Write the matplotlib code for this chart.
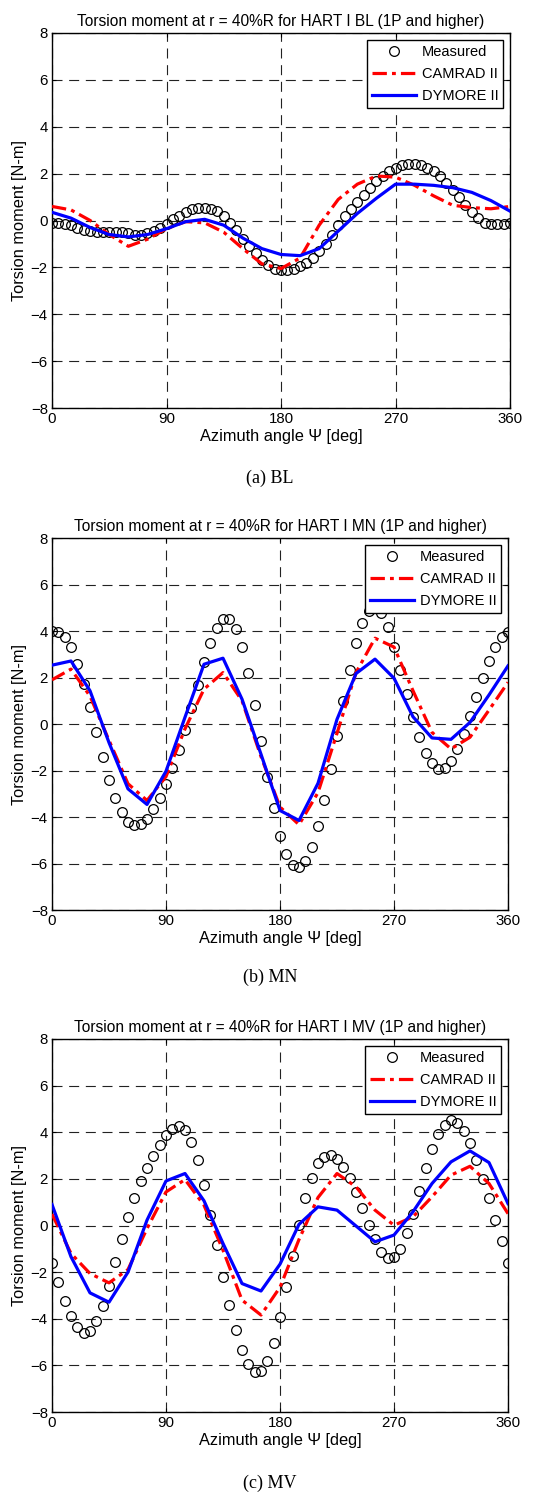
import numpy as np
import matplotlib
matplotlib.use("Agg")
import matplotlib.pyplot as plt

plt.rcParams['font.family'] = ['Liberation Sans', 'DejaVu Sans']

# ---------------- data ----------------
psi_meas = list(range(0, 361, 5))
psi_model = list(range(0, 361, 15))

titles = ["Torsion moment at r = 40%R for HART I BL (1P and higher)",
          "Torsion moment at r = 40%R for HART I MN (1P and higher)",
          "Torsion moment at r = 40%R for HART I MV (1P and higher)"]
captions = ["(a) BL", "(b) MN", "(c) MV"]

bl_measured = [-0.1, -0.1, -0.15, -0.2, -0.3, -0.4, -0.45, -0.5, -0.5, -0.5,
               -0.5, -0.5, -0.55, -0.6, -0.6, -0.55, -0.45, -0.3, -0.15, 0.05,
               0.2, 0.35, 0.5, 0.55, 0.55, 0.5, 0.4, 0.2, -0.1, -0.4,
               -0.8, -1.1, -1.4, -1.7, -1.9, -2.05, -2.1, -2.1, -2.05, -1.95,
               -1.8, -1.6, -1.3, -1.0, -0.6, -0.2, 0.2, 0.5, 0.8, 1.1,
               1.4, 1.7, 1.9, 2.1, 2.25, 2.35, 2.4, 2.4, 2.35, 2.25,
               2.1, 1.9, 1.6, 1.3, 1.0, 0.65, 0.35, 0.1, -0.1, -0.15,
               -0.15, -0.15, -0.1]
bl_camrad = [0.6, 0.45, 0.0, -0.6, -1.1, -0.8, -0.35, -0.05, -0.1, -0.5,
             -1.2, -1.85, -2.05, -1.6, -0.2, 0.9, 1.55, 1.9, 1.85, 1.5,
             1.05, 0.65, 0.55, 0.5, 0.6]
bl_dymore = [0.35, 0.1, -0.3, -0.6, -0.7, -0.6, -0.35, -0.05, 0.05, -0.2,
             -0.75, -1.2, -1.45, -1.5, -1.2, -0.45, 0.3, 0.95, 1.55, 1.55,
             1.5, 1.4, 1.2, 0.85, 0.4]

mn_measured = [4.0, 3.95, 3.75, 3.3, 2.6, 1.7, 0.75, -0.33, -1.4, -2.4,
               -3.2, -3.8, -4.2, -4.33, -4.3, -4.1, -3.65, -3.2, -2.57, -1.9,
               -1.1, -0.25, 0.7, 1.67, 2.67, 3.5, 4.15, 4.5, 4.5, 4.1,
               3.33, 2.2, 0.8, -0.75, -2.3, -3.6, -4.8, -5.6, -6.05, -6.15,
               -5.9, -5.3, -4.4, -3.25, -1.95, -0.5, 1.0, 2.33, 3.5, 4.34,
               4.86, 5.0, 4.76, 4.17, 3.31, 2.33, 1.29, 0.31, -0.57, -1.26,
               -1.69, -1.93, -1.89, -1.59, -1.09, -0.43, 0.33, 1.17, 1.97, 2.71,
               3.33, 3.73, 3.97]
mn_camrad = [1.9, 2.36, 1.2, -0.7, -2.57, -3.29, -2.26, -0.21, 1.5, 2.21,
             1.0, -1.4, -3.57, -4.33, -2.95, -0.4, 2.21, 3.69, 3.31, 1.43,
             -0.36, -1.07, -0.57, 0.6, 1.79]
mn_dymore = [2.53, 2.71, 1.43, -0.8, -2.79, -3.46, -2.03, 0.29, 2.57, 2.83,
             1.07, -1.3, -3.72, -4.15, -2.55, 0.2, 2.17, 2.79, 1.97, 0.31,
             -0.6, -0.66, 0.07, 1.25, 2.5]

mv_measured = [-1.6, -2.44, -3.24, -3.9, -4.37, -4.59, -4.53, -4.11, -3.47, -2.6,
               -1.56, -0.57, 0.37, 1.2, 1.91, 2.46, 2.99, 3.46, 3.87, 4.16,
               4.27, 4.09, 3.59, 2.8, 1.73, 0.46, -0.84, -2.2, -3.41, -4.49,
               -5.34, -5.93, -6.29, -6.24, -5.81, -5.03, -3.94, -2.63, -1.29, 0.04,
               1.2, 2.03, 2.66, 2.94, 3.04, 2.84, 2.51, 2.03, 1.44, 0.74,
               0.04, -0.6, -1.13, -1.41, -1.36, -0.99, -0.34, 0.51, 1.49, 2.46,
               3.3, 3.94, 4.3, 4.53, 4.41, 4.07, 3.54, 2.8, 2.01, 1.16,
               0.23, -0.67, -1.6]
mv_camrad = [0.49, -1.2, -2.06, -2.46, -1.89, -0.13, 1.44, 1.97, 0.87, -1.06,
             -3.2, -3.84, -2.65, -0.6, 1.2, 2.23, 1.66, 0.66, 0.01, 0.37,
             1.23, 2.16, 2.54, 1.8, 0.51]
mv_dymore = [0.9, -1.34, -2.89, -3.29, -2.0, 0.23, 1.91, 2.23, 1.06, -0.77,
             -2.49, -2.81, -1.66, 0.05, 0.8, 0.66, -0.02, -0.7, -0.41, 0.59,
             1.8, 2.73, 3.2, 2.7, 0.94]

panels = [(bl_measured, bl_camrad, bl_dymore),
          (mn_measured, mn_camrad, mn_dymore),
          (mv_measured, mv_camrad, mv_dymore)]

xticks = [0, 90, 180, 270, 360]
yticks = [-8, -6, -4, -2, 0, 2, 4, 6, 8]

# ---------------- layout ----------------
W, H = 543, 1495
fig = plt.figure(figsize=(W / 100, H / 100), dpi=100)

# (left, top, right, bottom) in pixels
boxes = [(52, 33, 510, 408), (52, 538, 508, 910), (52, 1039, 508, 1412)]
caption_y = [478, 977, 1483]

for i, (meas, cam, dym) in enumerate(panels):
    l, t, r, b = boxes[i]
    ax = fig.add_axes([l / W, 1 - b / H, (r - l) / W, (b - t) / H])
    ax.plot(psi_meas, meas, 'o', mfc='none', mec='k', ms=7, mew=0.9,
            label='Measured', zorder=3)
    ax.plot(psi_model, cam, color='#ff0000', lw=2.3,
            linestyle=(0, (4.5, 1.6, 1.2, 1.6)), label='CAMRAD II', zorder=4)
    ax.plot(psi_model, dym, color='#0000ff', lw=2.3, label='DYMORE II', zorder=4)
    ax.set_xlim(0, 360)
    ax.set_ylim(-8, 8)
    ax.set_xticks(xticks)
    ax.set_yticks(yticks)
    ax.grid(True, color='#222222', lw=0.8, linestyle=(0, (9, 6)))
    ax.tick_params(direction='in', top=True, right=True, labelsize=10.8,
                   length=3, width=0.8, pad=3)
    for s in ax.spines.values():
        s.set_linewidth(1.0)
    ax.set_title(titles[i], fontsize=11.2, pad=5)
    ax.set_xlabel('Azimuth angle \u03a8 [deg]', fontsize=11.8, labelpad=2)
    ax.set_ylabel('Torsion moment [N-m]', fontsize=11.8, labelpad=3)
    leg = ax.legend(loc='upper right', fontsize=10.5, handlelength=3.0,
                    frameon=True, fancybox=False, framealpha=1,
                    edgecolor='k', borderaxespad=0.45, borderpad=0.35,
                    labelspacing=0.55, handletextpad=0.4)
    leg.get_frame().set_linewidth(1.0)
    leg.set_zorder(10)
    fig.text(270 / W, 1 - caption_y[i] / H, captions[i],
             family=['Liberation Serif', 'DejaVu Serif'], fontsize=13,
             ha='center', va='center')

fig.savefig('out.png', dpi=100)
